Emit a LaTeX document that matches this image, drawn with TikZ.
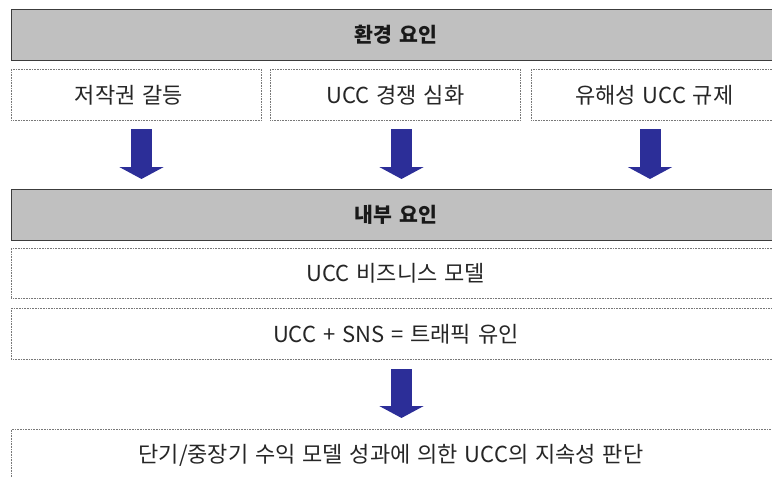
\documentclass[tikz,border=0pt]{standalone}
\usepackage{fontspec}
\newfontfamily\kr{Noto Sans CJK KR}[WordSpace={1.4}]
\usetikzlibrary{arrows.meta}
\definecolor{hdrfill}{RGB}{192,192,192}
\definecolor{hdrline}{RGB}{60,60,60}
\definecolor{dotline}{RGB}{120,120,120}
\definecolor{arrblue}{RGB}{44,46,152}
\tikzset{
  hdr/.style={draw=hdrline, line width=0.9pt, fill=hdrfill, anchor=north west,
    inner sep=0pt, font=\kr\bfseries\fontsize{20.5}{24}\selectfont, text=black!90},
  cell/.style={draw=dotline, line width=0.7pt, dash pattern=on 0.8pt off 0.8pt,
    fill=white, anchor=north west, inner sep=0pt,
    font=\kr\fontsize{22}{26}\selectfont, text=black!85},
  celltext/.style={font=\kr\fontsize{22}{26}\selectfont, text=black!85, inner sep=0pt},
  bigarrow/.style={draw=arrblue, line width=21pt,
    -{Triangle[width=44pt,length=12pt,fill=arrblue]}}
}
\begin{document}
\begin{tikzpicture}[x=1pt,y=-1pt]
\useasboundingbox (0,0) rectangle (772,477);
\node[hdr, minimum width=769pt, minimum height=51pt] (env) at (11,9) {환경 요인};
\node[cell, minimum width=250pt, minimum height=51pt] (c1) at (11,69) {};
\node[celltext] (c1t) at (129,95) {저작권 갈등};
\node[cell, minimum width=250pt, minimum height=51pt] (c2) at (270,69) {UCC 경쟁 심화};
\node[cell, minimum width=246pt, minimum height=51pt] (c3) at (531,69) {유해성 UCC 규제};
\node[hdr, minimum width=769pt, minimum height=51pt] (int) at (11,189) {내부 요인};
\node[cell, minimum width=769pt, minimum height=50pt] (bm) at (11,248) {UCC 비즈니스 모델};
\node[cell, minimum width=769pt, minimum height=51pt] (sns) at (11,308) {UCC + SNS = 트래픽 유인};
\node[cell, minimum width=769pt, minimum height=60pt] (fin) at (11,429) {};
\node[celltext] (fint) at (391,455) {단기/중장기 수익 모델 성과에 의한 UCC의 지속성 판단};
\coordinate (a1s) at (141.5,129); \coordinate (a1e) at (141.5,179);
\coordinate (a2s) at (401.5,129); \coordinate (a2e) at (401.5,179);
\coordinate (a3s) at (650,129);   \coordinate (a3e) at (650,179);
\coordinate (a4s) at (401.5,369); \coordinate (a4e) at (401.5,418);
\draw[bigarrow] (a1s) -- (a1e);
\draw[bigarrow] (a2s) -- (a2e);
\draw[bigarrow] (a3s) -- (a3e);
\draw[bigarrow] (a4s) -- (a4e);
\end{tikzpicture}
\end{document}
